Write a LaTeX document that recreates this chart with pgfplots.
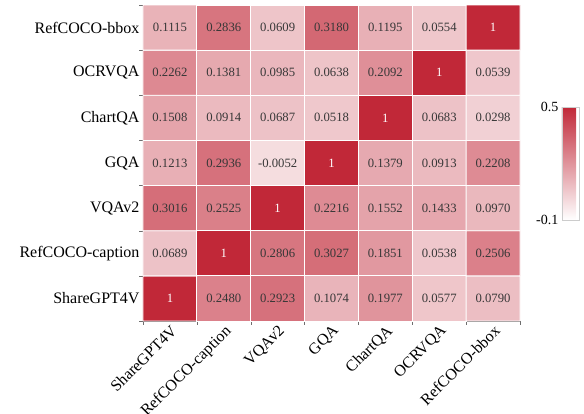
\documentclass[border=0pt]{standalone}
\usepackage{pgfplots}
\usepackage{pgfplotstable}
\pgfplotsset{compat=1.18}
\usepackage{fontspec}
\setmainfont{Liberation Serif}
\definecolor{cellgray}{RGB}{55,55,55}
\definecolor{axgray}{RGB}{110,110,110}
\pgfplotstableread{
x y c
0 0 1
1 0 0.2480
2 0 0.2923
3 0 0.1074
4 0 0.1977
5 0 0.0577
6 0 0.0790
0 1 0.0689
1 1 1
2 1 0.2806
3 1 0.3027
4 1 0.1851
5 1 0.0538
6 1 0.2506
0 2 0.3016
1 2 0.2525
2 2 1
3 2 0.2216
4 2 0.1552
5 2 0.1433
6 2 0.0970
0 3 0.1213
1 3 0.2936
2 3 -0.0052
3 3 1
4 3 0.1379
5 3 0.0913
6 3 0.2208
0 4 0.1508
1 4 0.0914
2 4 0.0687
3 4 0.0518
4 4 1
5 4 0.0683
6 4 0.0298
0 5 0.2262
1 5 0.1381
2 5 0.0985
3 5 0.0638
4 5 0.2092
5 5 1
6 5 0.0539
0 6 0.1115
1 6 0.2836
2 6 0.0609
3 6 0.3180
4 6 0.1195
5 6 0.0554
6 6 1
}\hm
\begin{document}
\begin{tikzpicture}
\begin{axis}[
  at={(0,0)}, anchor=south west,
  scale only axis, width=377bp, height=316bp,
  xmin=-0.5, xmax=6.5, ymin=-0.5, ymax=6.5,
  axis x line*=bottom, axis y line*=left,
  axis line style={axgray, -},
  xtick={0,...,6}, ytick={0,...,6},
  xticklabels={ShareGPT4V,RefCOCO-caption,VQAv2,GQA,ChartQA,OCRVQA,RefCOCO-bbox},
  yticklabels={ShareGPT4V,RefCOCO-caption,VQAv2,GQA,ChartQA,OCRVQA,RefCOCO-bbox},
  x tick label style={rotate=45, anchor=north east, font=\fontsize{16bp}{18bp}\selectfont, inner sep=2pt},
  y tick label style={font=\fontsize{16bp}{18bp}\selectfont},
  major tick length=0pt,
  minor xtick={-0.5,0.5,...,6.5},
  minor ytick={-0.5,0.5,...,6.5},
  minor tick length=3.5bp,
  minor tick style={axgray},
  tick align=outside,
  colormap={hm}{rgb255=(255,255,255) rgb255=(193,40,56)},
  point meta min=-0.1, point meta max=0.5,
  colorbar,
  colorbar style={
    at={(1.111,0.320)}, anchor=south west,
    scale only axis, width=17bp, height=113bp,
    ytick={-0.1,0.5},
    yticklabel pos=left,
    yticklabels={-0.1,0.5},
    major tick length=0pt,
    axis line style={gray!40},
    y tick label style={font=\fontsize{14bp}{16bp}\selectfont},
  },
]
\addplot[matrix plot*, mesh/cols=7, point meta=explicit, draw=white, line width=0.8bp]
  table[x=x, y=y, meta=c] {\hm};
\addplot[draw=none, mark=none, point meta=explicit symbolic,
  nodes near coords={\def\one{1}\edef\tmp{\pgfplotspointmeta}\ifx\tmp\one\color{white}\else\color{cellgray}\fi\pgfplotspointmeta},
  nodes near coords style={anchor=center, font=\fontsize{12.7bp}{14bp}\selectfont}]
  table[x=x, y=y, meta=c] {\hm};
\end{axis}
\pgfresetboundingbox
\path[use as bounding box] (-143bp,-93bp) rectangle (441bp,321bp);
\end{tikzpicture}
\end{document}
